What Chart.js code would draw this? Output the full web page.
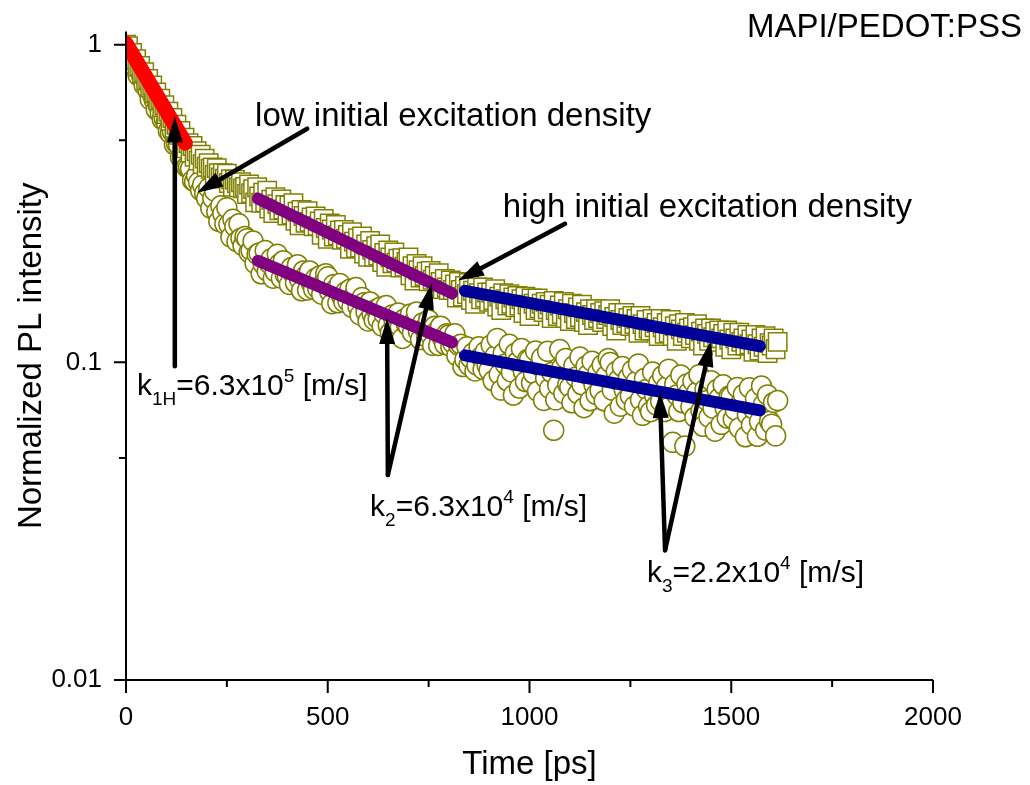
<!DOCTYPE html>
<html>
<head>
<meta charset="utf-8">
<script src="https://cdn.jsdelivr.net/npm/chart.js@4.4.1/dist/chart.umd.min.js"></script>
<style>
  html, body { margin: 0; padding: 0; background: #fff; }
  canvas { display: block; }
</style>
</head>
<body>
<canvas id="plChart" width="1030" height="785"></canvas>
<script>
const FONT = "'Liberation Sans', Arial, Helvetica, sans-serif";
const OLIVE = '#808000';

// temps (ps) des points mesurés, un point toutes les 5 ps
const timePs = [
  0, 5, 10, 15, 20, 25, 30, 35, 40, 45, 50, 55, 60, 65, 70, 75, 80, 85, 90, 95,
  100, 105, 110, 115, 120, 125, 130, 135, 140, 145, 150, 155, 160, 165, 170, 175, 180, 185, 190, 195,
  200, 205, 210, 215, 220, 225, 230, 235, 240, 245, 250, 255, 260, 265, 270, 275, 280, 285, 290, 295,
  300, 305, 310, 315, 320, 325, 330, 335, 340, 345, 350, 355, 360, 365, 370, 375, 380, 385, 390, 395,
  400, 405, 410, 415, 420, 425, 430, 435, 440, 445, 450, 455, 460, 465, 470, 475, 480, 485, 490, 495,
  500, 505, 510, 515, 520, 525, 530, 535, 540, 545, 550, 555, 560, 565, 570, 575, 580, 585, 590, 595,
  600, 605, 610, 615, 620, 625, 630, 635, 640, 645, 650, 655, 660, 665, 670, 675, 680, 685, 690, 695,
  700, 705, 710, 715, 720, 725, 730, 735, 740, 745, 750, 755, 760, 765, 770, 775, 780, 785, 790, 795,
  800, 805, 810, 815, 820, 825, 830, 835, 840, 845, 850, 855, 860, 865, 870, 875, 880, 885, 890, 895,
  900, 905, 910, 915, 920, 925, 930, 935, 940, 945, 950, 955, 960, 965, 970, 975, 980, 985, 990, 995,
  1000, 1005, 1010, 1015, 1020, 1025, 1030, 1035, 1040, 1045, 1050, 1055, 1060, 1065, 1070, 1075, 1080, 1085, 1090, 1095,
  1100, 1105, 1110, 1115, 1120, 1125, 1130, 1135, 1140, 1145, 1150, 1155, 1160, 1165, 1170, 1175, 1180, 1185, 1190, 1195,
  1200, 1205, 1210, 1215, 1220, 1225, 1230, 1235, 1240, 1245, 1250, 1255, 1260, 1265, 1270, 1275, 1280, 1285, 1290, 1295,
  1300, 1305, 1310, 1315, 1320, 1325, 1330, 1335, 1340, 1345, 1350, 1355, 1360, 1365, 1370, 1375, 1380, 1385, 1390, 1395,
  1400, 1405, 1410, 1415, 1420, 1425, 1430, 1435, 1440, 1445, 1450, 1455, 1460, 1465, 1470, 1475, 1480, 1485, 1490, 1495,
  1500, 1505, 1510, 1515, 1520, 1525, 1530, 1535, 1540, 1545, 1550, 1555, 1560, 1565, 1570, 1575, 1580, 1585, 1590, 1595,
  1600, 1605, 1610, 1615
];

// carrés : forte densité d'excitation initiale
const highDensity = [
  1.000, 0.990, 0.940, 0.942, 0.895, 0.900, 0.852, 0.858, 0.812, 0.820, 0.772, 0.780, 0.736, 0.744, 0.702, 0.708, 0.668, 0.676, 0.636, 0.645,
  0.605, 0.616, 0.576, 0.588, 0.548, 0.560, 0.521, 0.535, 0.498, 0.510, 0.472, 0.490, 0.458, 0.480, 0.444, 0.462, 0.432, 0.451, 0.421, 0.438,
  0.413, 0.424, 0.407, 0.411, 0.389, 0.409, 0.394, 0.382, 0.394, 0.379, 0.393, 0.367, 0.377, 0.357, 0.376, 0.366, 0.356, 0.369, 0.353, 0.357,
  0.339, 0.363, 0.341, 0.351, 0.319, 0.356, 0.333, 0.318, 0.342, 0.319, 0.347, 0.305, 0.325, 0.295, 0.331, 0.315, 0.301, 0.326, 0.303, 0.313,
  0.290, 0.312, 0.292, 0.317, 0.279, 0.298, 0.270, 0.302, 0.289, 0.275, 0.299, 0.277, 0.286, 0.268, 0.288, 0.269, 0.278, 0.252, 0.283, 0.265,
  0.245, 0.274, 0.262, 0.249, 0.271, 0.251, 0.260, 0.243, 0.261, 0.245, 0.252, 0.228, 0.257, 0.240, 0.229, 0.246, 0.230, 0.249, 0.220, 0.235,
  0.215, 0.241, 0.226, 0.215, 0.232, 0.217, 0.235, 0.207, 0.221, 0.200, 0.225, 0.214, 0.205, 0.222, 0.206, 0.212, 0.199, 0.213, 0.200, 0.207,
  0.214, 0.188, 0.201, 0.181, 0.204, 0.195, 0.185, 0.201, 0.187, 0.193, 0.180, 0.194, 0.182, 0.187, 0.170, 0.191, 0.179, 0.170, 0.183, 0.172,
  0.169, 0.181, 0.169, 0.176, 0.160, 0.179, 0.169, 0.161, 0.174, 0.164, 0.178, 0.157, 0.168, 0.153, 0.172, 0.165, 0.158, 0.172, 0.160, 0.166,
  0.155, 0.166, 0.157, 0.170, 0.150, 0.161, 0.146, 0.165, 0.158, 0.151, 0.164, 0.153, 0.160, 0.149, 0.162, 0.151, 0.158, 0.143, 0.161, 0.152,
  0.140, 0.159, 0.153, 0.146, 0.159, 0.148, 0.153, 0.144, 0.155, 0.147, 0.152, 0.138, 0.156, 0.146, 0.140, 0.151, 0.142, 0.155, 0.138, 0.147,
  0.135, 0.153, 0.143, 0.137, 0.149, 0.139, 0.152, 0.134, 0.144, 0.131, 0.147, 0.141, 0.136, 0.147, 0.138, 0.143, 0.134, 0.145, 0.137, 0.141,
  0.147, 0.130, 0.139, 0.126, 0.143, 0.136, 0.131, 0.143, 0.133, 0.138, 0.130, 0.140, 0.132, 0.137, 0.124, 0.140, 0.132, 0.126, 0.136, 0.128,
  0.126, 0.137, 0.129, 0.133, 0.121, 0.137, 0.129, 0.123, 0.133, 0.124, 0.136, 0.121, 0.130, 0.117, 0.132, 0.127, 0.121, 0.133, 0.124, 0.128,
  0.119, 0.129, 0.122, 0.132, 0.117, 0.125, 0.113, 0.128, 0.123, 0.117, 0.128, 0.120, 0.125, 0.116, 0.126, 0.119, 0.123, 0.112, 0.126, 0.118,
  0.110, 0.124, 0.119, 0.113, 0.124, 0.116, 0.119, 0.113, 0.122, 0.114, 0.118, 0.108, 0.122, 0.114, 0.109, 0.119, 0.112, 0.121, 0.107, 0.115,
  0.113, 0.119, 0.110, 0.116
];

// cercles : faible densité d'excitation initiale
const lowDensity = [
  0.972, 0.986, 0.906, 0.915, 0.918, 0.842, 0.801, 0.825, 0.787, 0.746, 0.770, 0.716, 0.673, 0.698, 0.670, 0.625, 0.647, 0.607, 0.582, 0.585,
  0.569, 0.535, 0.526, 0.532, 0.485, 0.490, 0.484, 0.442, 0.444, 0.450, 0.412, 0.411, 0.407, 0.374, 0.371, 0.387, 0.369, 0.348, 0.362, 0.341,
  0.328, 0.354, 0.306, 0.329, 0.346, 0.298, 0.278, 0.311, 0.294, 0.273, 0.307, 0.272, 0.248, 0.282, 0.268, 0.240, 0.273, 0.246, 0.233, 0.249,
  0.245, 0.222, 0.225, 0.241, 0.205, 0.219, 0.221, 0.190, 0.204, 0.225, 0.194, 0.205, 0.212, 0.184, 0.193, 0.219, 0.204, 0.184, 0.209, 0.189,
  0.186, 0.176, 0.199, 0.190, 0.178, 0.203, 0.183, 0.168, 0.194, 0.187, 0.169, 0.194, 0.177, 0.170, 0.184, 0.171, 0.187, 0.164, 0.178, 0.190,
  0.186, 0.167, 0.153, 0.176, 0.170, 0.154, 0.177, 0.161, 0.155, 0.167, 0.156, 0.170, 0.149, 0.162, 0.172, 0.150, 0.141, 0.160, 0.154, 0.144,
  0.135, 0.155, 0.142, 0.136, 0.147, 0.137, 0.149, 0.130, 0.142, 0.151, 0.131, 0.124, 0.141, 0.134, 0.126, 0.143, 0.129, 0.119, 0.137, 0.132,
  0.130, 0.142, 0.124, 0.135, 0.144, 0.125, 0.118, 0.133, 0.128, 0.120, 0.136, 0.122, 0.113, 0.130, 0.125, 0.113, 0.130, 0.119, 0.114, 0.123,
  0.122, 0.112, 0.115, 0.123, 0.105, 0.113, 0.114, 0.097, 0.102, 0.112, 0.098, 0.103, 0.107, 0.094, 0.098, 0.112, 0.104, 0.095, 0.108, 0.098,
  0.0944, 0.1135, 0.0875, 0.1049, 0.119, 0.0916, 0.0818, 0.1069, 0.0988, 0.0875, 0.114, 0.0933, 0.0789, 0.1069, 0.1003, 0.0830, 0.1106, 0.0934, 0.0870, 0.1021,
  0.1018, 0.0862, 0.0922, 0.1086, 0.0811, 0.0974, 0.1032, 0.0759, 0.0892, 0.1083, 0.0828, 0.0929, 0.0611, 0.0762, 0.0848, 0.1097, 0.0961, 0.0798, 0.1029, 0.0852,
  0.0835, 0.0746, 0.0975, 0.0900, 0.0797, 0.1039, 0.0850, 0.0720, 0.0974, 0.0914, 0.0757, 0.1009, 0.0851, 0.0793, 0.0931, 0.0816, 0.0981, 0.0757, 0.0908, 0.1029,
  0.0999, 0.0818, 0.0692, 0.0936, 0.0879, 0.0728, 0.0970, 0.0818, 0.0762, 0.0895, 0.0785, 0.0944, 0.0728, 0.0872, 0.0989, 0.0762, 0.0681, 0.0890, 0.0822, 0.0727,
  0.0699, 0.0932, 0.0787, 0.0733, 0.0861, 0.0755, 0.0908, 0.0700, 0.0839, 0.0952, 0.0733, 0.0560, 0.0855, 0.0790, 0.0700, 0.0912, 0.0746, 0.0545, 0.0855, 0.0803,
  0.0725, 0.0872, 0.0672, 0.0806, 0.0914, 0.0704, 0.0629, 0.0822, 0.0759, 0.0672, 0.0876, 0.0717, 0.0607, 0.0821, 0.0771, 0.0638, 0.0850, 0.0717, 0.0668, 0.0784,
  0.0782, 0.0663, 0.0708, 0.0834, 0.0622, 0.0748, 0.0792, 0.0583, 0.0684, 0.0832, 0.0635, 0.0714, 0.0769, 0.0585, 0.0651, 0.0842, 0.0738, 0.0612, 0.0790, 0.0653,
  0.0639, 0.0748, 0.0587, 0.0758
];

// droites d'ajustement (début / fin)
const fitRedTime = [0, 147];
const fitRedVal = [1.01, 0.49];
const fitPurpleTime = [327, 808];
const fitPurpleHighVal = [0.328, 0.165];
const fitPurpleLowVal = [0.209, 0.1156];
const fitBlueTime = [840, 1571];
const fitBlueHighVal = [0.168, 0.1124];
const fitBlueLowVal = [0.1052, 0.0706];

// graduations
const xTicks = [0, 250, 500, 750, 1000, 1250, 1500, 1750, 2000];
const xTickLabels = ['0', '', '500', '', '1000', '', '1500', '', '2000'];
const yTicks = [0.01, 0.05, 0.1, 0.5, 1];
const yTickLabels = ['0.01', '', '0.1', '', '1'];

// flèches (queue -> pointe) en coordonnées de données
const arrows = [
  { from: [449, 0.544], to: [176, 0.342] },
  { from: [1088, 0.273], to: [823, 0.181] },
  { from: [121, 0.0973], to: [121, 0.594] },
  { from: [649, 0.0442], to: [647, 0.138] },
  { from: [649, 0.0442], to: [758, 0.177] },
  { from: [1336, 0.0256], to: [1323, 0.0807] },
  { from: [1336, 0.0256], to: [1450, 0.117] }
];

// textes : [texte, taille, décalage vertical]
const notes = [
  { at: [320, 0.556], parts: [['low initial excitation density', 33, 0]] },
  { at: [934, 0.286], parts: [['high initial excitation density', 33, 0]] },
  { at: [27, 0.0788], parts: [['k', 30, 0], ['1H', 19, 10], ['=6.3x10', 30, 0], ['5', 19, -13], [' [m/s]', 30, 0]] },
  { at: [605, 0.0329], parts: [['k', 30, 0], ['2', 19, 10], ['=6.3x10', 30, 0], ['4', 19, -13], [' [m/s]', 30, 0]] },
  { at: [1291, 0.0203], parts: [['k', 30, 0], ['3', 19, 10], ['=2.2x10', 30, 0], ['4', 19, -13], [' [m/s]', 30, 0]] }
];

function toPoints(xs, ys) {
  return xs.map((x, i) => ({ x: x, y: ys[i] }));
}

function fitLine(xs, ys, color, width) {
  return {
    data: toPoints(xs, ys),
    showLine: true,
    borderColor: color,
    borderWidth: width,
    borderCapStyle: 'round',
    pointRadius: 0,
    clip: { left: 0, top: 15, right: 20, bottom: 0 }
  };
}

function drawArrow(ctx, x1, y1, x2, y2) {
  const ang = Math.atan2(y2 - y1, x2 - x1);
  const headLen = 26, headHalf = 8;
  const bx = x2 - headLen * Math.cos(ang);
  const by = y2 - headLen * Math.sin(ang);
  ctx.lineWidth = 4.5;
  ctx.lineCap = 'round';
  ctx.beginPath();
  ctx.moveTo(x1, y1);
  ctx.lineTo(bx, by);
  ctx.stroke();
  ctx.beginPath();
  ctx.moveTo(x2, y2);
  ctx.lineTo(bx + headHalf * Math.sin(ang), by - headHalf * Math.cos(ang));
  ctx.lineTo(bx - headHalf * Math.sin(ang), by + headHalf * Math.cos(ang));
  ctx.closePath();
  ctx.fill();
}

// axes, graduations, flèches et textes dessinés par-dessus les données
const annotatePlugin = {
  id: 'annotate',
  afterDatasetsDraw(chart) {
    const ctx = chart.ctx;
    const xs = chart.scales.x, ys = chart.scales.y;
    const area = chart.chartArea;
    ctx.save();
    ctx.strokeStyle = '#000';
    ctx.fillStyle = '#000';
    ctx.lineWidth = 2;
    ctx.beginPath();
    ctx.moveTo(area.left, area.top);
    ctx.lineTo(area.left, area.bottom + 1);
    ctx.moveTo(area.left - 1, area.bottom);
    ctx.lineTo(area.right, area.bottom);
    yTicks.forEach((v, i) => {
      const py = ys.getPixelForValue(v);
      const len = yTickLabels[i] ? 12 : 7;
      ctx.moveTo(area.left - len, py);
      ctx.lineTo(area.left, py);
    });
    xTicks.forEach((v, i) => {
      const px = xs.getPixelForValue(v);
      const len = xTickLabels[i] ? 13 : 7;
      ctx.moveTo(px, area.bottom);
      ctx.lineTo(px, area.bottom + len);
    });
    ctx.stroke();

    arrows.forEach(a => {
      drawArrow(ctx,
        xs.getPixelForValue(a.from[0]), ys.getPixelForValue(a.from[1]),
        xs.getPixelForValue(a.to[0]), ys.getPixelForValue(a.to[1]));
    });

    ctx.textBaseline = 'alphabetic';
    ctx.textAlign = 'left';
    notes.forEach(n => {
      let px = xs.getPixelForValue(n.at[0]);
      const py = ys.getPixelForValue(n.at[1]);
      n.parts.forEach(p => {
        ctx.font = p[1] + 'px ' + FONT;
        ctx.fillText(p[0], px, py + p[2]);
        px += ctx.measureText(p[0]).width;
      });
    });

    ctx.font = '33px ' + FONT;
    ctx.textAlign = 'right';
    ctx.fillText('MAPI/PEDOT:PSS', chart.width - 8, 37);
    ctx.restore();
  }
};

const ctx = document.getElementById('plChart').getContext('2d');
new Chart(ctx, {
  type: 'scatter',
  data: {
    datasets: [
      fitLine(fitRedTime, fitRedVal, '#ff0000', 15),
      fitLine(fitPurpleTime, fitPurpleHighVal, '#800080', 12),
      fitLine(fitPurpleTime, fitPurpleLowVal, '#800080', 12),
      fitLine(fitBlueTime, fitBlueHighVal, '#000099', 12),
      fitLine(fitBlueTime, fitBlueLowVal, '#000099', 12),
      {
        data: toPoints(timePs, highDensity),
        pointStyle: 'rect',
        pointRadius: 13,
        borderWidth: 1.5,
        borderColor: OLIVE,
        backgroundColor: '#ffffff',
        clip: { left: 0, top: 15, right: 20, bottom: 0 }
      },
      {
        data: toPoints(timePs, lowDensity),
        pointStyle: 'circle',
        pointRadius: 10,
        borderWidth: 1.5,
        borderColor: OLIVE,
        backgroundColor: '#ffffff',
        clip: { left: 0, top: 15, right: 20, bottom: 0 }
      }
    ]
  },
  options: {
    responsive: false,
    animation: false,
    devicePixelRatio: 1,
    events: [],
    layout: { padding: { left: 0, right: 97, top: 31, bottom: 0 } },
    plugins: { legend: { display: false }, tooltip: { enabled: false } },
    scales: {
      x: {
        type: 'linear',
        min: 0,
        max: 2000,
        afterBuildTicks: s => { s.ticks = xTicks.map(v => ({ value: v })); },
        afterFit: s => { s.height = 105; },
        grid: { display: false },
        border: { display: false },
        ticks: {
          autoSkip: false,
          maxRotation: 0,
          padding: 14,
          color: '#000',
          font: { family: FONT, size: 26 },
          callback: (v, i) => xTickLabels[i]
        },
        title: {
          display: true,
          text: 'Time [ps]',
          color: '#000',
          font: { family: FONT, size: 33 },
          padding: { top: 0, bottom: 0 }
        }
      },
      y: {
        type: 'logarithmic',
        min: 0.01,
        max: 1.1,
        afterBuildTicks: s => { s.ticks = yTicks.map(v => ({ value: v })); },
        afterFit: s => { s.width = 126; },
        grid: { display: false },
        border: { display: false },
        ticks: {
          autoSkip: false,
          padding: 16,
          color: '#000',
          font: { family: FONT, size: 26 },
          callback: (v, i) => yTickLabels[i]
        },
        title: {
          display: true,
          text: 'Normalized PL intensity',
          color: '#000',
          font: { family: FONT, size: 33 },
          padding: { top: 12, bottom: 0 }
        }
      }
    }
  },
  plugins: [annotatePlugin]
});
</script>
</body>
</html>
